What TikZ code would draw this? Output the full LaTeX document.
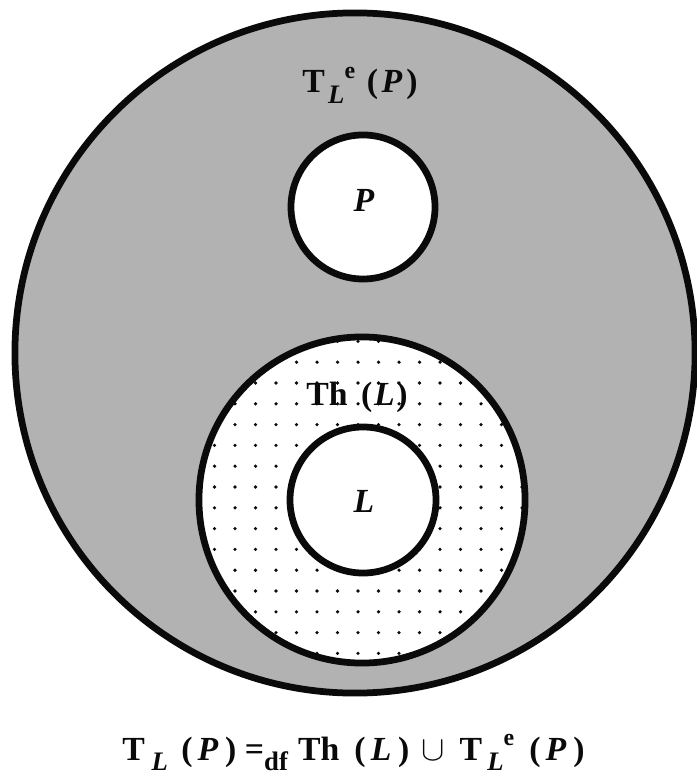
\documentclass[tikz,border=0pt]{standalone}
\usepackage{fontspec}
\setmainfont{Liberation Serif}
\usetikzlibrary{positioning}
\definecolor{shade}{RGB}{178,178,178}
\definecolor{ink}{RGB}{10,10,10}
\newcommand{\idxlow}[1]{\raisebox{-0.32em}{\fontsize{19}{19}\selectfont #1}}
\newcommand{\idxhigh}[1]{\raisebox{0.42em}{\fontsize{17}{17}\selectfont #1}}

\begin{document}
\begin{tikzpicture}[x=0.025cm, y=-0.025cm,
            ring/.style={draw=ink, line width=4.8pt, circle, inner sep=0pt},
            lbl/.style={inner sep=0pt, text=ink, font=\fontsize{24}{28}\selectfont\bfseries}
        ]
            \useasboundingbox (0,0) rectangle (696,780);
            % the sets
            \node[ring, fill=shade, minimum size=17cm] (univ) at (355,353) {};
            \node[ring, fill=white, minimum size=3.6cm] (pset) at (363,207) {};
            \node[ring, fill=white, minimum size=8.15cm] (thl) at (362,500) {};
            \begin{scope}
                \clip (thl.center) circle[radius=161];
                \foreach \i in {-9,...,9}
                    \foreach \j in {-3,...,14}
                        \fill[ink] (358+20.5*\i, 383+20.8*\j) circle[radius=1.8];
            \end{scope}
            \node[ring, fill=white, minimum size=3.65cm] (lset) at (363,500) {};
            % labels
            \node[lbl, anchor=base] (tle) at (360,93) {T\hspace{0.1em}\idxlow{\textit{L}}\idxhigh{e}\hspace{0.35em}(\hspace{0.1em}\textit{P}\hspace{0.12em})};
            \node[lbl, anchor=base] (plab) at (364,212) {\textit{P}};
            \node[lbl, anchor=base] (thlab) at (357,405) {Th\hspace{0.4em}(\hspace{0.05em}\textit{L}\hspace{0.05em})};
            \node[lbl, anchor=base] (llab) at (364,512) {\textit{L}};
            \node[lbl, anchor=base west] (defn) at (122,760) {T\hspace{0.2em}\idxlow{\textit{L}}\hspace{0.4em}(\hspace{0.15em}\textit{P}\hspace{0.2em})\hspace{0.25em}=\idxlow{df}\hspace{0.3em}Th\hspace{0.45em}(\hspace{0.15em}\textit{L}\hspace{0.2em})\hspace{0.35em}{\fontsize{27}{27}\selectfont$\cup$}\hspace{0.45em}T\hspace{0.15em}\idxlow{\textit{L}}\idxhigh{e}\hspace{0.45em}(\hspace{0.15em}\textit{P}\hspace{0.2em})};
        \end{tikzpicture}
\end{document}
